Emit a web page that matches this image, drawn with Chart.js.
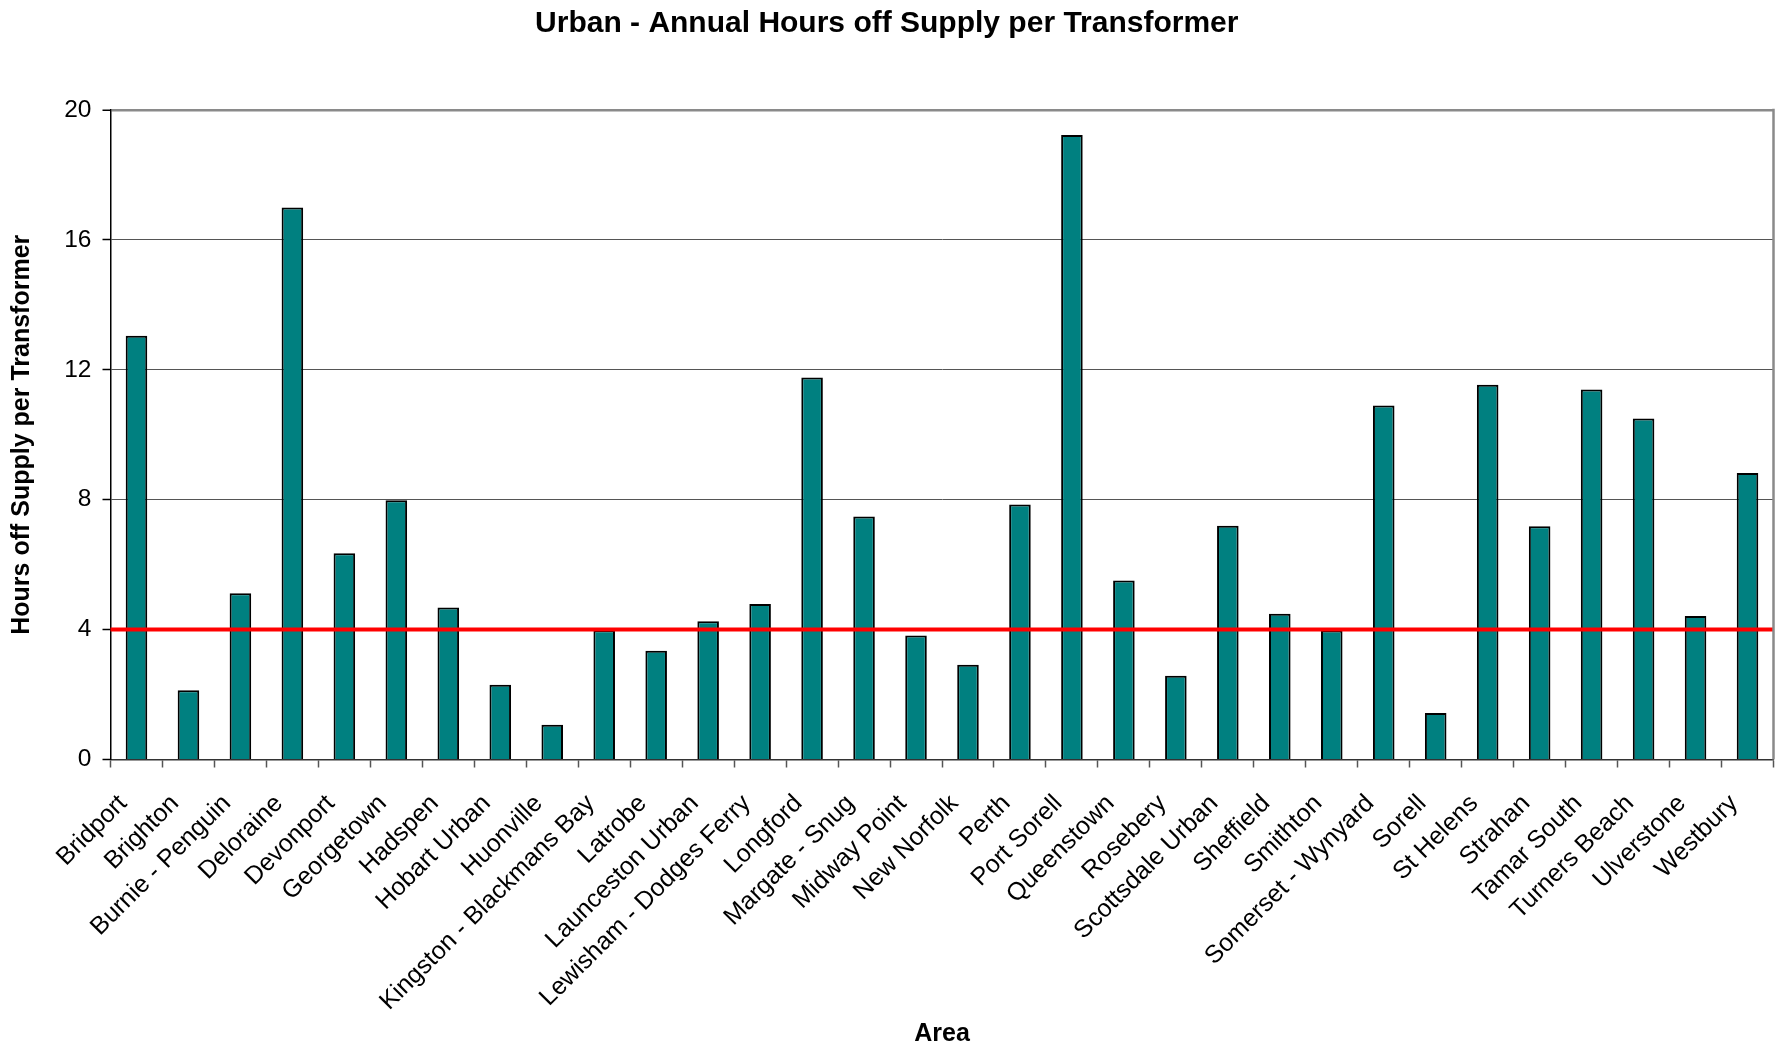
<!DOCTYPE html>
<html>
<head>
<meta charset="utf-8">
<title>Urban - Annual Hours off Supply per Transformer</title>
<script src="https://cdn.jsdelivr.net/npm/chart.js@4/dist/chart.umd.min.js"></script>
<style>
  html, body { margin: 0; padding: 0; background: #ffffff; }
  canvas { display: block; }
</style>
</head>
<body>
<canvas id="chart" width="1775" height="1047"></canvas>
<script>
// Supply areas (x categories)
const areas = [
  'Bridport', 'Brighton', 'Burnie - Penguin', 'Deloraine', 'Devonport',
  'Georgetown', 'Hadspen', 'Hobart Urban', 'Huonville', 'Kingston - Blackmans Bay',
  'Latrobe', 'Launceston Urban', 'Lewisham - Dodges Ferry', 'Longford', 'Margate - Snug',
  'Midway Point', 'New Norfolk', 'Perth', 'Port Sorell', 'Queenstown',
  'Rosebery', 'Scottsdale Urban', 'Sheffield', 'Smithton', 'Somerset - Wynyard',
  'Sorell', 'St Helens', 'Strahan', 'Tamar South', 'Turners Beach',
  'Ulverstone', 'Westbury'
];

// Annual hours off supply per transformer, one value per area
const hoursOff = [
  13.05, 2.13, 5.12, 17.0, 6.35,
  7.98, 4.68, 2.30, 1.07, 3.98,
  3.35, 4.26, 4.79, 11.76, 7.48,
  3.82, 2.92, 7.85, 19.23, 5.51,
  2.58, 7.20, 4.49, 3.97, 10.90,
  1.43, 11.54, 7.18, 11.39, 10.50,
  4.42, 8.82
];

// Urban target level, drawn across the full plot width on top of the bars
const targetHours = 4;

// Value axis ticks
const yTicks = [0, 4, 8, 12, 16, 20];

const FONT = "'Liberation Sans', Arial, Helvetica, sans-serif";

// Target line: placed with the value scale, spanning the whole plot area
const targetLine = {
  id: 'targetLine',
  afterDatasetsDraw(chart) {
    const { ctx, chartArea, scales } = chart;
    const y = scales.y.getPixelForValue(targetHours);
    ctx.save();
    ctx.strokeStyle = '#ff0000';
    ctx.lineWidth = 4;
    ctx.beginPath();
    ctx.moveTo(chartArea.left, y);
    ctx.lineTo(chartArea.right, y);
    ctx.stroke();
    ctx.restore();
  }
};

// Grey frame line on the right edge of the plot area
const plotFrame = {
  id: 'plotFrame',
  afterDraw(chart) {
    const { ctx, chartArea } = chart;
    ctx.save();
    ctx.strokeStyle = '#8a8a8a';
    ctx.lineWidth = 2.5;
    ctx.beginPath();
    ctx.moveTo(chartArea.right, chartArea.top - 1.25);
    ctx.lineTo(chartArea.right, chartArea.bottom);
    ctx.stroke();
    ctx.restore();
  }
};

new Chart(document.getElementById('chart'), {
  type: 'bar',
  data: {
    labels: areas,
    datasets: [
      {
        label: 'Hours off Supply per Transformer',
        data: hoursOff,
        backgroundColor: '#008080',
        borderColor: '#000000',
        borderWidth: 2,
        barPercentage: 0.415,
        categoryPercentage: 1.0
      }
    ]
  },
  options: {
    responsive: false,
    animation: false,
    layout: { padding: { left: 0, right: 1.5, top: 0, bottom: 0 } },
    plugins: {
      legend: { display: false },
      tooltip: { enabled: false },
      title: {
        display: true,
        text: 'Urban - Annual Hours off Supply per Transformer',
        color: '#000000',
        font: { family: FONT, size: 30, weight: 'bold' },
        padding: { top: 6, bottom: 68 }
      }
    },
    scales: {
      x: {
        type: 'category',
        offset: true,
        grid: {
          display: true,
          offset: true,
          drawOnChartArea: false,
          drawTicks: true,
          tickLength: 8,
          tickColor: '#555555',
          tickWidth: 1.5
        },
        border: { display: true, color: '#333333', width: 1.5 },
        ticks: {
          autoSkip: false,
          minRotation: 45,
          maxRotation: 45,
          padding: 21.5,
          labelOffset: -13.5,
          color: '#000000',
          font: { family: FONT, size: 25 }
        },
        title: {
          display: true,
          text: 'Area',
          color: '#000000',
          font: { family: FONT, size: 25, weight: 'bold', lineHeight: 1 },
          padding: { top: 0, bottom: 0 }
        },
        afterFit(scale) {
          scale.height = 287.5;
          scale.paddingLeft = 0;
          scale.paddingRight = 0;
        }
      },
      y: {
        type: 'linear',
        min: yTicks[0],
        max: yTicks[yTicks.length - 1],
        afterBuildTicks(scale) { scale.ticks = yTicks.map(v => ({ value: v })); },
        grid: {
          color: c => (c.tick && c.tick.value === 20) ? '#8a8a8a'
                    : (c.tick && c.tick.value === 0) ? 'rgba(0,0,0,0)' : '#555555',
          lineWidth: c => (c.tick && c.tick.value === 20) ? 2.5 : 1,
          drawTicks: true,
          tickLength: 8,
          tickColor: '#000000',
          tickWidth: 1.5
        },
        border: { display: true, color: '#000000', width: 1.5 },
        ticks: {
          padding: 11,
          color: '#000000',
          font: { family: FONT, size: 24.5 }
        },
        title: {
          display: true,
          text: 'Hours off Supply per Transformer',
          color: '#000000',
          font: { family: FONT, size: 25, weight: 'bold' },
          padding: { top: 7, bottom: 0 }
        },
        afterFit(scale) { scale.width = 110.5; }
      }
    }
  },
  plugins: [targetLine, plotFrame]
});
</script>
</body>
</html>
